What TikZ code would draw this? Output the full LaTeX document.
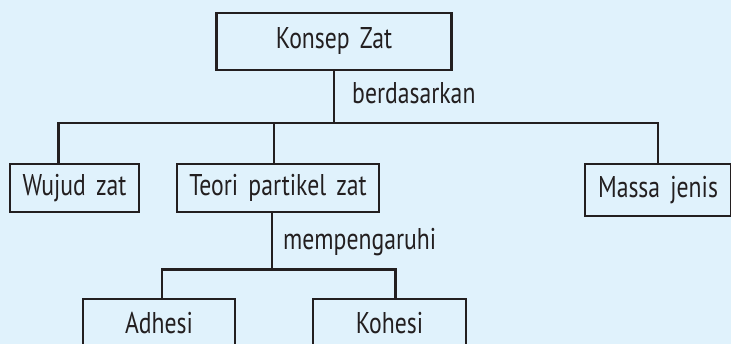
\documentclass[tikz,border=0pt]{standalone}
\usepackage{fontspec}
\setmainfont[FakeStretch=0.79, WordSpace=1.6]{PT Sans}
\usepackage{tikz}
\usetikzlibrary{positioning}
\definecolor{skyback}{RGB}{224,242,252}
\definecolor{inkgray}{RGB}{35,31,32}

\tikzset{
    zatbox/.style={
        draw=inkgray,
        line width=2.2pt,
        fill=skyback,
        inner sep=0pt,
        text=inkgray,
        font=\fontsize{30}{32}\selectfont
    },
    linklabel/.style={
        inner sep=0pt,
        text=inkgray,
        font=\fontsize{30}{32}\selectfont
    },
    treeline/.style={draw=inkgray, line width=2.2pt}
}

\begin{document}
\begin{tikzpicture}[x=1pt,y=-1pt]
\fill[skyback] (0,0) rectangle (731,344);
\clip (0,0) rectangle (731,344);

\node[zatbox, minimum width=235pt, minimum height=57pt] (zat) at (334,41.5) {Konsep Zat};

\node[zatbox, minimum width=129pt, minimum height=48pt] (wujud) at (74.5,188) {Wujud zat};
\node[zatbox, minimum width=202pt, minimum height=48pt] (teori) at (278,188) {Teori partikel zat};
\node[zatbox, minimum width=146pt, minimum height=52pt] (massa) at (658,190) {Massa jenis};

\node[zatbox, minimum width=152pt, minimum height=48pt] (adhesi) at (159,323) {Adhesi};
\node[zatbox, minimum width=153pt, minimum height=48pt] (kohesi) at (389.5,323) {Kohesi};

% cabang
\coordinate (cabang) at (334,123);
\coordinate (pengaruh) at (272,269.5);

\draw[treeline] (zat.south) -- (cabang);
\draw[treeline] ([xshift=-16pt]wujud.north) |- (cabang) -| (massa.north);
\draw[treeline] ([xshift=-4pt]teori.north) -- ([xshift=-4pt]teori.north |- cabang);
\draw[treeline] ([xshift=-6pt]teori.south) -- (pengaruh);
\draw[treeline] ([xshift=3pt]adhesi.north) |- (pengaruh) -| ([xshift=6pt]kohesi.north);

\node[linklabel, anchor=base west] (ket1) at (352,104) {berdasarkan};
\node[linklabel, anchor=base west] (ket2) at (283,250) {mempengaruhi};
\end{tikzpicture}
\end{document}
